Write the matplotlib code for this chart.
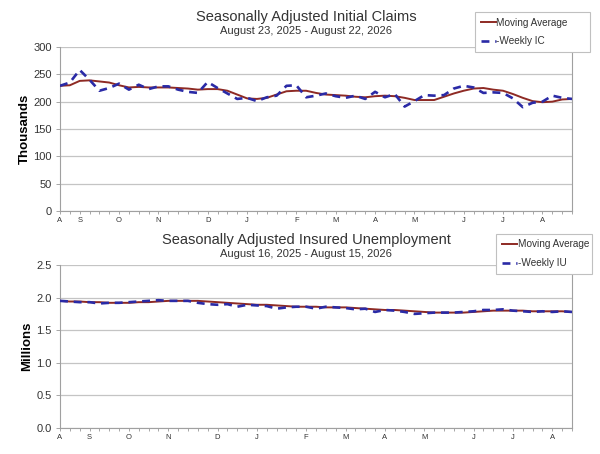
import numpy as np
import pandas as pd
import matplotlib
matplotlib.use("Agg")
import matplotlib.pyplot as plt

plt.rcParams["font.family"] = ["Liberation Sans", "DejaVu Sans"]

# initial claims, thousands, weeks ending Aug 23 2025 .. Aug 22 2026
ic_weekly = [229, 235, 258, 240, 220, 225, 233, 222, 231, 223,
             228, 228, 222, 218, 216, 236, 225, 215, 205, 207,
             201, 208, 211, 229, 230, 208, 211, 215, 210, 207,
             211, 205, 218, 208, 214, 191, 201, 212, 211, 212,
             224, 229, 226, 216, 217, 216, 206, 190, 198, 200,
             211, 207, 205]
ic_avg = [229, 230, 238, 239, 237, 235, 230, 226, 227, 226,
          226, 226, 225, 224, 222, 223, 223, 220, 213, 206,
          205, 207, 213, 219, 220, 220, 216, 213, 212, 211,
          209, 208, 210, 211, 210, 207, 203, 203, 203, 209,
          215, 220, 224, 225, 222, 220, 214, 207, 201, 199,
          200, 204, 205]

# insured unemployment, millions, weeks ending Aug 16 2025 .. Aug 15 2026
iu_weekly = [1.95, 1.94, 1.93, 1.93, 1.91, 1.92, 1.92, 1.93, 1.94, 1.95,
             1.96, 1.95, 1.95, 1.95, 1.92, 1.90, 1.89, 1.90, 1.86, 1.89,
             1.88, 1.87, 1.83, 1.85, 1.86, 1.86, 1.83, 1.86, 1.85, 1.84,
             1.82, 1.83, 1.78, 1.81, 1.80, 1.78, 1.75, 1.76, 1.77, 1.77,
             1.77, 1.78, 1.79, 1.81, 1.81, 1.82, 1.80, 1.79, 1.78, 1.79,
             1.78, 1.79, 1.78]
iu_avg = [1.95, 1.94, 1.94, 1.93, 1.93, 1.92, 1.92, 1.92, 1.93, 1.93,
          1.94, 1.95, 1.95, 1.95, 1.95, 1.94, 1.93, 1.92, 1.91, 1.90,
          1.89, 1.89, 1.88, 1.87, 1.86, 1.86, 1.86, 1.85, 1.85, 1.85,
          1.84, 1.83, 1.82, 1.81, 1.81, 1.80, 1.79, 1.78, 1.77, 1.77,
          1.77, 1.77, 1.78, 1.79, 1.80, 1.80, 1.80, 1.80, 1.79, 1.79,
          1.79, 1.79, 1.78]

ic_dates = pd.date_range("2025-08-23", periods=len(ic_weekly), freq="7D")
iu_dates = pd.date_range("2025-08-16", periods=len(iu_weekly), freq="7D")

avg_color = "#8e2a24"
wk_color = "#2a2aa6"
grid_color = "#c4c4c4"
text_color = "#333333"

fig = plt.figure(figsize=(6, 4.54), dpi=100)


def draw(rect, dates, weekly, avg, wk_label, ylabel, yticks, fmt, title, subtitle, title_y, legend_box):
    ax = fig.add_axes(rect)
    x = np.arange(len(dates))
    ax.plot(x, avg, color=avg_color, lw=1.4, label="Moving Average", zorder=3)
    ax.plot(x, weekly, color=wk_color, lw=1.9, dashes=(3, 2.2), label="-" + wk_label, zorder=4)
    ax.set_xlim(0, len(dates) - 1)
    ax.set_ylim(yticks[0], yticks[-1])
    ax.set_yticks(yticks)
    ax.set_yticklabels([fmt.format(v) for v in yticks], fontsize=8, color=text_color)
    ax.yaxis.grid(True, color=grid_color, lw=0.9)
    ax.set_axisbelow(True)
    # month letters at the first week of each month
    pos = [i for i in range(len(dates)) if i == 0 or dates[i].month != dates[i - 1].month]
    ax.set_xticks(pos)
    ax.set_xticklabels([dates[i].strftime("%b")[0] for i in pos], fontsize=5.5, color=text_color)
    ax.set_xticks(x, minor=True)
    ax.tick_params(axis="x", which="both", length=2.5, width=0.6, color="#999999", pad=2)
    ax.tick_params(axis="y", length=3, width=0.6, color="#999999", pad=3)
    for s in ["left", "bottom", "right"]:
        ax.spines[s].set_color("#a0a0a0")
        ax.spines[s].set_linewidth(0.8)
    ax.spines["top"].set_visible(False)
    ax.set_ylabel(ylabel, fontsize=9.5, fontweight="bold", color="black", labelpad=2)
    fig.text(0.51, title_y, title, ha="center", va="center", fontsize=10.5, color=text_color)
    fig.text(0.51, title_y - 0.03, subtitle, ha="center", va="center", fontsize=8, color=text_color)
    leg = fig.legend(handles=ax.get_lines(), loc="upper left", bbox_to_anchor=legend_box,
                     mode="expand", fontsize=7.2, handlelength=1.5, handletextpad=0.1,
                     labelspacing=0.9, borderpad=0.55, fancybox=False, framealpha=1)
    leg.get_frame().set_edgecolor("#c0c0c0")
    leg.get_frame().set_linewidth(0.8)
    for t in leg.get_texts():
        t.set_color(text_color)
    return ax


draw([60 / 600, 1 - 211 / 454, 512 / 600, 164 / 454], ic_dates, ic_weekly, ic_avg,
     "Weekly IC", "Thousands", [0, 50, 100, 150, 200, 250, 300], "{:d}",
     "Seasonally Adjusted Initial Claims", "August 23, 2025 - August 22, 2026",
     1 - 17 / 454, (470 / 600, 1 - 43 / 454, 125 / 600, 36 / 454))

draw([60 / 600, 1 - 428 / 454, 512 / 600, 163 / 454], iu_dates, iu_weekly, iu_avg,
     "Weekly IU", "Millions", [0.0, 0.5, 1.0, 1.5, 2.0, 2.5], "{:.1f}",
     "Seasonally Adjusted Insured Unemployment", "August 16, 2025 - August 15, 2026",
     1 - 240 / 454, (491 / 600, 1 - 263 / 454, 106 / 600, 34 / 454))

fig.savefig("out.png", dpi=100)
